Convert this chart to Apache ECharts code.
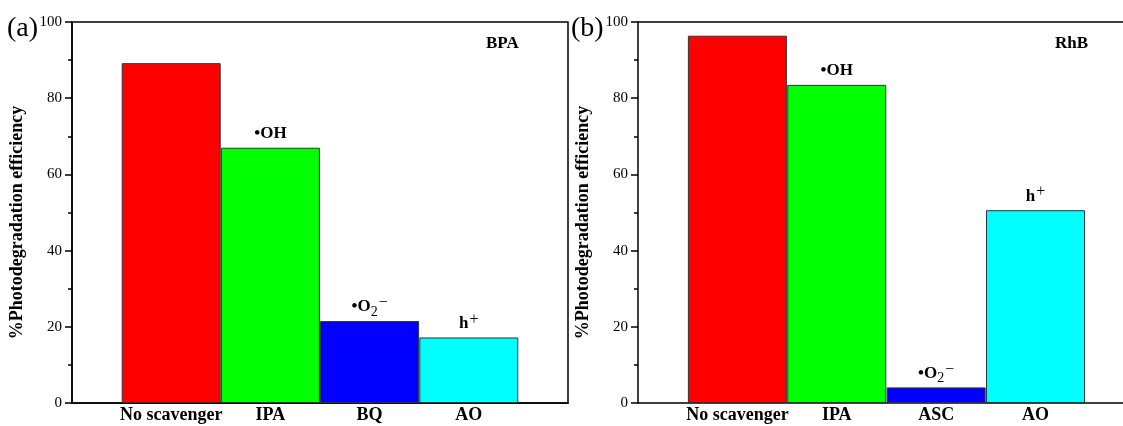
<!DOCTYPE html>
<html>
<head>
<meta charset="utf-8">
<script src="https://cdn.jsdelivr.net/npm/echarts@6/dist/echarts.min.js"></script>
<style>
  html, body { margin: 0; padding: 0; background: #fff; }
  #chart { width: 1123px; height: 426px; }
</style>
</head>
<body>
<div id="chart"></div>
<script>
// panel (a): BPA
const catsA = ['No scavenger', 'IPA', 'BQ', 'AO'];
const valsA = [89.2, 67.0, 21.5, 17.2];
const notesA = ['', '{t|•OH}', '{t|•O}{sub|2}{sup|−}', '{t|h}{sup|+}'];

// panel (b): RhB
const catsB = ['No scavenger', 'IPA', 'ASC', 'AO'];
const valsB = [96.4, 83.5, 4.1, 50.6];
const notesB = ['', '{t|•OH}', '{t|•O}{sub|2}{sup|−}', '{t|h}{sup|+}'];

const barColors = ['#ff0000', '#00ff00', '#0000ff', '#00ffff'];
const yTicks = [0, 20, 40, 60, 80, 100];

const FONT = '"Liberation Serif", "Times New Roman", serif';

const chart = echarts.init(document.getElementById('chart'));

const rich = {
  t: { fontFamily: FONT, fontSize: 17, fontWeight: 'bold', color: '#000', lineHeight: 24, verticalAlign: 'middle' },
  sub: { fontFamily: FONT, fontSize: 14, color: '#000', lineHeight: 24, verticalAlign: 'bottom' },
  sup: { fontFamily: FONT, fontSize: 16, color: '#000', lineHeight: 24, verticalAlign: 'top', padding: [0, 0, 0, 1] }
};

function xAxisFor(idx, cats, maxX) {
  return {
    gridIndex: idx,
    type: 'value',
    min: 0,
    max: maxX,
    interval: 1,
    splitLine: { show: false },
    axisTick: { show: false },
    axisLine: { onZero: false, lineStyle: { color: '#000', width: 1.5 } },
    axisLabel: {
      margin: 3,
      fontFamily: FONT, fontSize: 18, fontWeight: 'bold', color: '#000',
      showMaxLabel: false,
      formatter: v => cats[v - 1] || ''
    }
  };
}

// top frame line of the right panel (its right edge runs off the picture)
function topFrameAxis(idx, maxX) {
  return {
    gridIndex: idx,
    type: 'value',
    position: 'top',
    min: 0,
    max: maxX,
    splitLine: { show: false },
    axisTick: { show: false },
    axisLabel: { show: false },
    axisLine: { onZero: false, lineStyle: { color: '#000', width: 1.5 } }
  };
}

function yAxisFor(idx) {
  return {
    gridIndex: idx,
    type: 'value',
    min: yTicks[0],
    max: yTicks[yTicks.length - 1],
    interval: yTicks[1] - yTicks[0],
    name: '%Photodegradation efficiency',
    nameLocation: 'middle',
    nameGap: 46,
    nameTextStyle: { fontFamily: FONT, fontSize: 18, fontWeight: 'bold', color: '#000', padding: [0, 20, 0, 0] },
    splitLine: { show: false },
    axisLine: { show: true, lineStyle: { color: '#000', width: 1.5 } },
    axisTick: { show: true, length: 7, lineStyle: { color: '#000', width: 1.5 } },
    minorTick: { show: true, splitNumber: 2, length: 4, lineStyle: { color: '#000', width: 1.5 } },
    axisLabel: { margin: 10, fontFamily: FONT, fontSize: 15, color: '#000' }
  };
}

function barSeries(idx, vals, notes) {
  return {
    type: 'bar',
    xAxisIndex: idx,
    yAxisIndex: idx,
    barWidth: 99,
    data: vals.map((v, i) => ({
      value: [i + 1, v],
      itemStyle: { color: barColors[i] },
      label: { show: notes[i] !== '', formatter: notes[i] }
    })),
    itemStyle: { borderColor: '#333', borderWidth: 1 },
    label: { position: 'top', distance: 2, rich: rich },
    silent: true
  };
}

chart.setOption({
  animation: false,
  backgroundColor: '#fff',
  grid: [
    { left: 72, top: 22, width: 496, height: 381, show: true, borderColor: '#000', borderWidth: 1.5 },
    { left: 638, top: 22, width: 485, height: 381 }
  ],
  xAxis: [xAxisFor(0, catsA, 5), xAxisFor(1, catsB, 4.88), topFrameAxis(1, 4.88)],
  yAxis: [yAxisFor(0), yAxisFor(1)],
  series: [barSeries(0, valsA, notesA), barSeries(1, valsB, notesB)],
  graphic: [
    { type: 'text', left: 7, top: 15, style: { text: '(a)', font: '28px ' + FONT, fill: '#000' } },
    { type: 'text', left: 571, top: 15, style: { text: '(b)', font: '28px ' + FONT, fill: '#000' } },
    { type: 'text', left: 486, top: 35, style: { text: 'BPA', font: 'bold 17px ' + FONT, fill: '#000' } },
    { type: 'text', left: 1055, top: 35, style: { text: 'RhB', font: 'bold 17px ' + FONT, fill: '#000' } }
  ]
});
</script>
</body>
</html>
